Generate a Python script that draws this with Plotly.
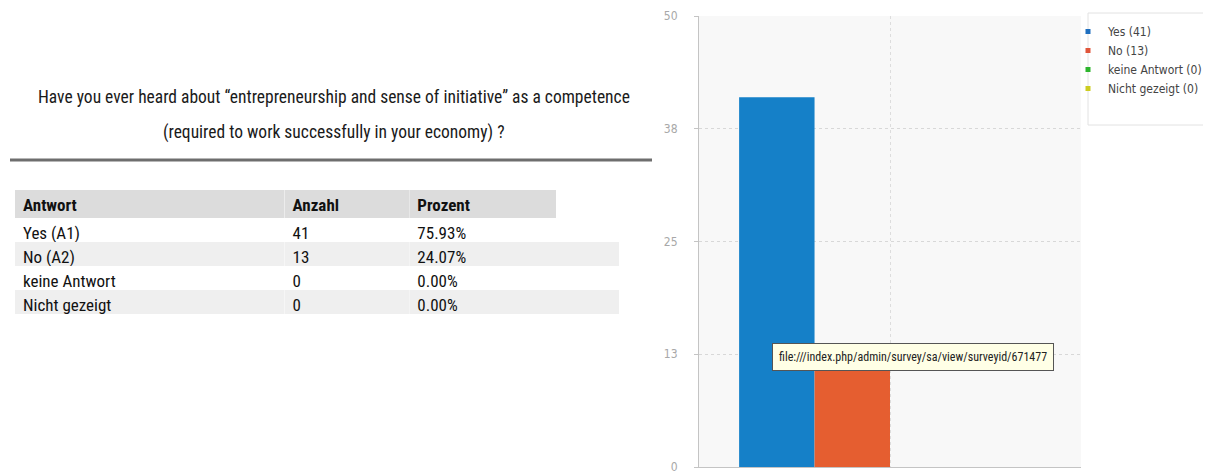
import plotly.graph_objects as go

# ---------------- data ----------------
answers = ["Yes (A1)", "No (A2)", "keine Antwort", "Nicht gezeigt"]
counts = [41, 13, 0, 0]
percents = [75.93, 24.07, 0.00, 0.00]
headers = ["Antwort", "Anzahl", "Prozent"]
series_names = ["Yes", "No", "keine Antwort", "Nicht gezeigt"]
bar_colors = ["#1580c8", "#e55e30", "#8fdc8f", "#ecec9c"]
legend_colors = ["#1f6fbf", "#e0553a", "#2db52d", "#cccc20"]
y_tickvals = [0, 12.5, 25, 37.5, 50]
y_ticktext = ["0", "13", "25", "38", "50"]
question = ["Have you ever heard about \u201centrepreneurship and sense of initiative\u201d as a competence",
            "(required to work successfully in your economy) ?"]
tooltip_text = "file:///index.php/admin/survey/sa/view/surveyid/671477"

# page has an 8px body margin; size the figure so that it fits the window
OFF = 8
W, H = 1211 - OFF, 473 - OFF
NARROW = "Liberation Sans Narrow, Arial Narrow, Roboto Condensed, Liberation Sans, sans-serif"

def px(x):
    return (x - OFF) / W

def py(y):
    return 1 - (y - OFF) / H

fig = go.Figure()

# ---------------- table ----------------
fig.add_trace(go.Table(
    domain=dict(x=[px(15), px(620)], y=[py(330), py(190)]),
    columnwidth=[270, 125, 147, 63],
    header=dict(
        values=headers + [" "],
        fill_color=["#dcdcdc", "#dcdcdc", "#dcdcdc", "white"],
        line_color="rgba(0,0,0,0)", line_width=0,
        align="left", height=28,
        font=dict(family=NARROW, size=17, color="#111", weight="bold"),
    ),
    cells=dict(
        values=[answers, [str(c) for c in counts], [f"{p:.2f}%" for p in percents], [" "] * len(answers)],
        fill_color=[["white", "#efefef", "white", "#efefef"]] * 4,
        line_color="rgba(0,0,0,0)", line_width=0,
        align="left", height=24,
        font=dict(family=NARROW, size=17, color="#111"),
    ),
))

# ---------------- bars ----------------
for name, val, col in zip(series_names, counts, bar_colors):
    fig.add_trace(go.Bar(
        x=[""], y=[val], name=name, marker_color=col,
        marker_line_width=0, showlegend=False,
    ))
# legend entries (small square markers)
for name, val, col in zip(series_names, counts, legend_colors):
    fig.add_trace(go.Scatter(
        x=[None], y=[None], mode="markers", name=f"{name} ({val})",
        marker=dict(symbol="square", size=5, color=col),
    ))

fig.update_layout(
    width=W, height=H,
    margin=dict(l=0, r=0, t=0, b=0, autoexpand=False),
    paper_bgcolor="white",
    plot_bgcolor="#f8f8f8",
    barmode="group", bargap=0.21, bargroupgap=0,
    xaxis=dict(domain=[px(699), px(1081)], showgrid=True, griddash="dot",
               gridcolor="#dddddd", showline=True, linecolor="#c4c4c4",
               showticklabels=False, ticks="", zeroline=False,
               automargin=False),
    yaxis=dict(domain=[py(467), py(16)], range=[0, 50], tickvals=y_tickvals,
               ticktext=y_ticktext, showgrid=True, griddash="dot",
               gridcolor="#d8d8d8", showline=True, linecolor="#c4c4c4",
               ticks="outside", ticklen=4, tickcolor="#c4c4c4",
               ticklabelstandoff=14, ticklabeloverflow="allow",
               tickfont=dict(family="DejaVu Sans Condensed, DejaVu Sans", size=12, color="#a8a8a8"),
               zeroline=False, automargin=False),
    legend=dict(x=px(1068), y=py(17), xanchor="left", yanchor="top",
                bgcolor="rgba(0,0,0,0)", borderwidth=0,
                font=dict(family="DejaVu Sans Condensed, DejaVu Sans", size=12, color="#444"),
                tracegroupgap=0, itemwidth=30),
    showlegend=True,
)

# legend box
fig.add_shape(type="rect", xref="paper", yref="paper",
              x0=px(1088), x1=px(1205), y0=py(125), y1=py(13),
              fillcolor="white", line=dict(color="#e2e2e2", width=1), layer="below")

# separator line under question
fig.add_shape(type="line", xref="paper", yref="paper",
              x0=px(10), x1=px(652), y0=py(160), y1=py(160),
              line=dict(color="#6e6e6e", width=3))

# question title
for line, yy in zip(question, [97, 133]):
    fig.add_annotation(text=line, xref="paper", yref="paper",
                       x=px(334), y=py(yy), xanchor="center", yanchor="middle",
                       showarrow=False, font=dict(family=NARROW, size=17.5, color="#1a1a1a"))

# tooltip
fig.add_annotation(text=tooltip_text, xref="paper", yref="paper",
                   x=px(913), y=py(357), xanchor="center", yanchor="middle",
                   showarrow=False, bgcolor="#ffffe6", bordercolor="#555555",
                   borderwidth=1, borderpad=6,
                   font=dict(family=NARROW, size=12, color="#222"))

fig.write_html("out.html")
